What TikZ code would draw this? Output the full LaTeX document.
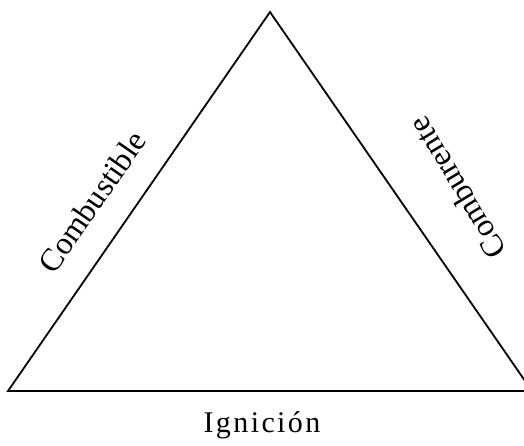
\documentclass[tikz,border=0pt]{standalone}
\usepackage{fontspec}
\setmainfont{Liberation Serif}
\begin{document}
\begin{tikzpicture}[x=1pt,y=-1pt,
  edge/.style={line width=1.8pt,line join=miter},
  lbl/.style={font=\fontsize{32}{38}\selectfont,inner sep=0pt}]
\useasboundingbox (0,0) rectangle (524,445);
\clip (0,0) rectangle (524,445);
\coordinate (L) at (8,391);
\coordinate (T) at (270,12);
\coordinate (R) at (532,391);
\draw[edge] (L) -- (T) -- (R) -- cycle;
\node[lbl,rotate=55.3] (comb) at (92,202) {Combustible};
\node[lbl,rotate=121] (cbr) at (457,188) {Comburente};
\node[inner sep=0pt,anchor=base,font=\fontsize{30}{36}\selectfont\addfontfeature{LetterSpace=8}] (ign) at (262,432) {Ignición};
\end{tikzpicture}
\end{document}
